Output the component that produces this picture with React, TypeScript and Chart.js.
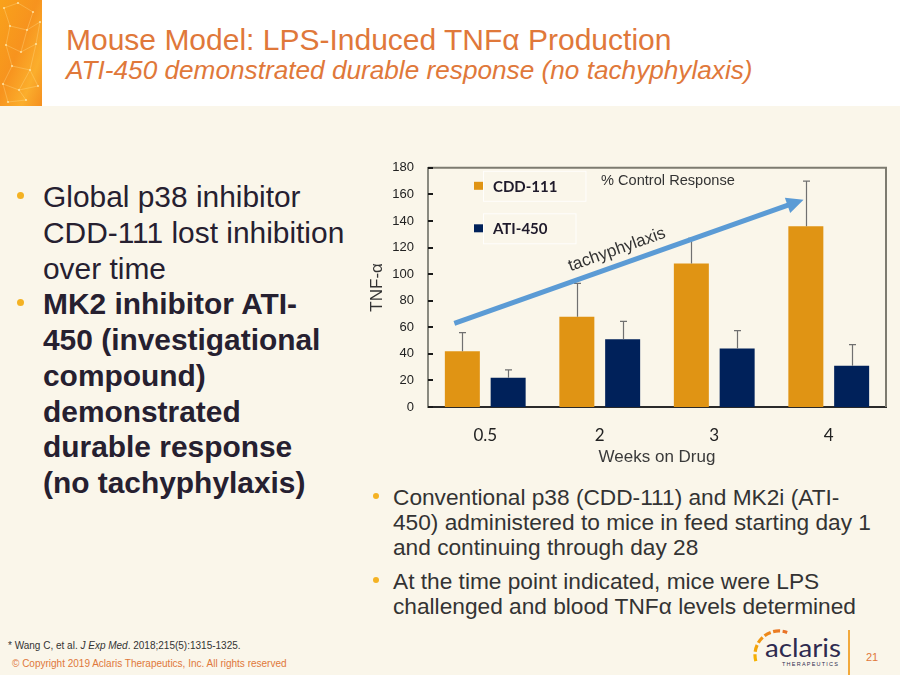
import React, { useEffect, useRef } from 'react';
import { Chart, registerables } from 'chart.js';

Chart.register(...registerables);

// ---------- data ----------
const WEEKS = ['0.5', '2', '3', '4'];
const CDD_111 = [42, 68, 108, 136];
const CDD_111_ERR = [14, 25, 19, 34];
const ATI_450 = [22, 51, 44, 31];
const ATI_450_ERR = [6, 13.5, 13.5, 16];
const Y_MIN = 0;
const Y_MAX = 180;
const Y_STEP = 20;
// trend arrow, in data space: [category index, value]
const ARROW_FROM = [-0.27, 63];
const ARROW_TO = [2.78, 156];
const ARROW_LABEL = 'tachyphylaxis';
const CHART_NOTE = '% Control Response';

const TITLE = 'Mouse Model: LPS-Induced TNFα Production';
const SUBTITLE = 'ATI-450 demonstrated durable response (no tachyphylaxis)';
const LEFT_BULLETS = [
  { bold: false, lines: ['Global p38 inhibitor', 'CDD-111 lost inhibition', 'over time'] },
  {
    bold: true,
    lines: ['MK2 inhibitor ATI-', '450 (investigational', 'compound)', 'demonstrated', 'durable response', '(no tachyphylaxis)'],
  },
];
const BOTTOM_BULLETS = [
  ['Conventional p38 (CDD-111) and MK2i (ATI-', '450) administered to mice in feed starting day 1', 'and continuing through day 28'],
  ['At the time point indicated, mice were LPS', 'challenged and blood TNFα levels determined'],
];

const ORANGE = '#E09414';
const NAVY = '#00215A';
const ERRS = [CDD_111_ERR, ATI_450_ERR];

const overlayPlugin = {
  id: 'overlay',
  afterDatasetsDraw(chart: any) {
    const { ctx, chartArea: a, scales } = chart;
    const x = scales.x;
    const y = scales.y;
    ctx.save();

    // frame top / right
    ctx.strokeStyle = '#7d7b70';
    ctx.lineWidth = 2;
    ctx.beginPath();
    ctx.moveTo(a.left, a.top);
    ctx.lineTo(a.right, a.top);
    ctx.lineTo(a.right, a.bottom);
    ctx.stroke();

    // inward tick marks
    ctx.strokeStyle = '#1a1a1a';
    ctx.lineWidth = 2;
    y.ticks.forEach((t: any) => {
      const py = Math.round(y.getPixelForValue(t.value));
      ctx.beginPath();
      ctx.moveTo(a.left, py);
      ctx.lineTo(a.left + 5, py);
      ctx.stroke();
    });

    // error bars (upper only)
    ctx.strokeStyle = '#707070';
    ctx.lineWidth = 1.2;
    chart.data.datasets.forEach((ds: any, i: number) => {
      const meta = chart.getDatasetMeta(i);
      meta.data.forEach((bar: any, j: number) => {
        const top = y.getPixelForValue(ds.data[j] + ERRS[i][j]);
        const bx = Math.round(bar.x) + 0.5;
        ctx.beginPath();
        ctx.moveTo(bx, bar.y);
        ctx.lineTo(bx, top);
        ctx.moveTo(bx - 3.5, top);
        ctx.lineTo(bx + 3.5, top);
        ctx.stroke();
      });
    });

    // trend arrow
    const x0 = x.getPixelForValue(ARROW_FROM[0]);
    const y0 = y.getPixelForValue(ARROW_FROM[1]);
    const x1 = x.getPixelForValue(ARROW_TO[0]);
    const y1 = y.getPixelForValue(ARROW_TO[1]);
    const ang = Math.atan2(y1 - y0, x1 - x0);
    const headLen = 17;
    const headHalf = 8;
    const bx = x1 - headLen * Math.cos(ang);
    const by = y1 - headLen * Math.sin(ang);
    ctx.strokeStyle = '#5B9BD5';
    ctx.fillStyle = '#5B9BD5';
    ctx.lineWidth = 5;
    ctx.lineCap = 'butt';
    ctx.beginPath();
    ctx.moveTo(x0, y0);
    ctx.lineTo(bx + 2 * Math.cos(ang), by + 2 * Math.sin(ang));
    ctx.stroke();
    ctx.beginPath();
    ctx.moveTo(x1, y1);
    ctx.lineTo(bx - headHalf * Math.sin(ang), by + headHalf * Math.cos(ang));
    ctx.lineTo(bx + headHalf * Math.sin(ang), by - headHalf * Math.cos(ang));
    ctx.closePath();
    ctx.fill();

    // arrow label
    const t = 0.48;
    const off = 15;
    const cx = x0 + t * (x1 - x0) + off * Math.sin(ang);
    const cy = y0 + t * (y1 - y0) - off * Math.cos(ang);
    ctx.save();
    ctx.translate(cx, cy);
    ctx.rotate(ang);
    ctx.fillStyle = '#333333';
    ctx.font = '17px "Liberation Sans", Arial, sans-serif';
    ctx.textAlign = 'center';
    ctx.textBaseline = 'middle';
    ctx.fillText(ARROW_LABEL, 0, 0);
    ctx.restore();

    // legend (inside the plot)
    ctx.font = 'bold 15px Lato, "Liberation Sans", sans-serif';
    ctx.textBaseline = 'middle';
    ctx.textAlign = 'left';
    const rows = [18, 60.5];
    chart.data.datasets.forEach((ds: any, i: number) => {
      const cyL = a.top + rows[i];
      const w = ctx.measureText(ds.label).width;
      ctx.strokeStyle = 'rgba(255,255,255,0.85)';
      ctx.lineWidth = 1;
      ctx.strokeRect(a.left + 55.5, cyL - 14.5, w + 38, 30);
      ctx.fillStyle = ds.backgroundColor;
      ctx.fillRect(a.left + 46, cyL - 4, 9, 8);
      ctx.fillStyle = '#1f1a2b';
      ctx.fillText(ds.label, a.left + 65, cyL + 1);
    });

    // chart note
    ctx.font = '14.6px "Liberation Sans", Arial, sans-serif';
    ctx.fillStyle = '#333333';
    ctx.fillText(CHART_NOTE, a.left + 173, a.top + 13);

    ctx.restore();
  },
};

function ChartBox() {
  const ref = useRef<HTMLCanvasElement>(null);
  useEffect(() => {
    const chart = new Chart(ref.current as HTMLCanvasElement, {
      type: 'bar',
      data: {
        labels: WEEKS,
        datasets: [
          {
            label: 'CDD-111',
            data: CDD_111,
            backgroundColor: ORANGE,
            borderWidth: 0,
            categoryPercentage: 0.8,
            barPercentage: 0.764,
          },
          {
            label: 'ATI-450',
            data: ATI_450,
            backgroundColor: NAVY,
            borderWidth: 0,
            categoryPercentage: 0.8,
            barPercentage: 0.764,
          },
        ],
      },
      options: {
        animation: false,
        responsive: false,
        maintainAspectRatio: false,
        devicePixelRatio: 1,
        layout: { padding: { top: 0, right: 14, left: 0, bottom: 0 } },
        plugins: {
          legend: { display: false },
          tooltip: { enabled: false },
        },
        scales: {
          x: {
            grid: { display: false },
            border: { display: true, color: '#2a2a2a', width: 2 },
            ticks: {
              color: '#222222',
              font: { family: 'Lato, "Liberation Sans", sans-serif', size: 17 },
              padding: 10,
            },
            title: {
              display: true,
              text: 'Weeks on Drug',
              color: '#3a3a3a',
              font: { family: '"Liberation Sans", Arial, sans-serif', size: 17 },
              padding: { top: 0, bottom: 8 },
            },
            afterFit(s: any) {
              s.height = 69;
            },
          },
          y: {
            min: Y_MIN,
            max: Y_MAX,
            grid: { display: false, drawTicks: false },
            border: { display: true, color: '#8a8a80', width: 2 },
            ticks: {
              stepSize: Y_STEP,
              color: '#222222',
              font: { family: '"Liberation Sans", Arial, sans-serif', size: 13 },
              padding: 14,
            },
            title: {
              display: true,
              text: 'TNF-α',
              color: '#333333',
              font: { family: '"Liberation Sans", Arial, sans-serif', size: 17 },
              padding: { top: 17, bottom: 0 },
            },
            afterFit(s: any) {
              s.width = 78;
            },
          },
        },
      },
      plugins: [overlayPlugin],
    } as any);
    return () => chart.destroy();
  }, []);
  return (
    <div style={{ position: 'absolute', left: 350, top: 146, width: 550, height: 330 }}>
      <canvas ref={ref} width={550} height={330} style={{ width: 550, height: 330, display: 'block' }} />
    </div>
  );
}

function Dot({ x, y, size, color }: { x: number; y: number; size: number; color: string }) {
  return (
    <div
      style={{
        position: 'absolute',
        left: x - size / 2,
        top: y - size / 2,
        width: size,
        height: size,
        borderRadius: '50%',
        background: color,
      }}
    />
  );
}

function Strip() {
  const pts = [
    [4, 8], [18, 3], [33, 12], [10, 26], [27, 30], [40, 22], [6, 45], [21, 52], [36, 44],
    [12, 66], [30, 70], [3, 84], [19, 90], [38, 86], [26, 100], [8, 102],
  ];
  const links = [
    [0, 1], [1, 2], [0, 3], [3, 4], [4, 2], [4, 5], [3, 6], [6, 7], [7, 4], [7, 8], [8, 5],
    [6, 9], [9, 10], [10, 8], [9, 11], [11, 12], [12, 10], [12, 13], [13, 10], [12, 14], [11, 15], [15, 14],
  ];
  return (
    <svg width={42} height={106} style={{ position: 'absolute', left: 0, top: 0 }}>
      <defs>
        <linearGradient id="sg" x1="0" y1="0" x2="1" y2="1">
          <stop offset="0" stopColor="#F9A21B" />
          <stop offset="0.45" stopColor="#F7931E" />
          <stop offset="0.75" stopColor="#FBAE2C" />
          <stop offset="1" stopColor="#F58F1F" />
        </linearGradient>
      </defs>
      <rect width={42} height={106} fill="url(#sg)" />
      {links.map(([a, b], i) => (
        <line
          key={i}
          x1={pts[a][0]}
          y1={pts[a][1]}
          x2={pts[b][0]}
          y2={pts[b][1]}
          stroke="rgba(255,226,150,0.55)"
          strokeWidth={0.6}
        />
      ))}
      {pts.map((p, i) => (
        <circle key={i} cx={p[0]} cy={p[1]} r={1.1} fill="rgba(255,236,180,0.8)" />
      ))}
    </svg>
  );
}

function Logo() {
  return (
    <svg width={105} height={53} style={{ position: 'absolute', left: 745, top: 622 }}>
      <defs>
        <linearGradient id="lg" x1="0" y1="1" x2="1" y2="0">
          <stop offset="0" stopColor="#F6B400" />
          <stop offset="1" stopColor="#E8702A" />
        </linearGradient>
      </defs>
      <path
        d="M 10.8 39.2 A 24 24 0 0 1 42.2 10.4"
        fill="none"
        stroke="url(#lg)"
        strokeWidth={3.2}
        strokeDasharray="7 2.5"
      />
      <text
        x={20}
        y={35}
        fontFamily='Lato, "Liberation Sans", sans-serif'
        fontSize={25}
        fill="#2E2A4F"
        textLength={76}
        lengthAdjust="spacingAndGlyphs"
      >
        aclaris
      </text>
      <text
        x={37}
        y={44}
        fontFamily='"Liberation Sans", Arial, sans-serif'
        fontSize={5.5}
        fill="#2E2A4F"
        textLength={56}
        lengthAdjust="spacing"
      >
        THERAPEUTICS
      </text>
    </svg>
  );
}

export default function App() {
  const sans = '"Liberation Sans", Arial, sans-serif';
  return (
    <div
      style={{
        position: 'absolute',
        left: 0,
        top: 0,
        width: 900,
        height: 675,
        background: '#FAF6EA',
        overflow: 'hidden',
        fontFamily: sans,
      }}
    >
      <div style={{ position: 'absolute', left: 0, top: 0, width: 900, height: 106, background: '#FFFFFF' }} />
      <Strip />
      <div
        style={{
          position: 'absolute',
          left: 66,
          top: 22,
          height: 36,
          lineHeight: '36px',
          fontSize: 30,
          color: '#E0783A',
          whiteSpace: 'nowrap',
        }}
      >
        {TITLE}
      </div>
      <div
        style={{
          position: 'absolute',
          left: 66,
          top: 54,
          height: 32,
          lineHeight: '32px',
          fontSize: 26.2,
          fontStyle: 'italic',
          color: '#E0783A',
          whiteSpace: 'nowrap',
        }}
      >
        {SUBTITLE}
      </div>

      {/* left bullets */}
      <div style={{ position: 'absolute', left: 43, top: 179, fontSize: 29.9, lineHeight: '35.75px', color: '#262030' }}>
        {LEFT_BULLETS.map((b, i) => (
          <div key={i} style={{ fontWeight: b.bold ? 'bold' : 'normal' }}>
            {b.lines.map((l, k) => (
              <div key={k} style={{ whiteSpace: 'nowrap' }}>
                {l}
              </div>
            ))}
          </div>
        ))}
      </div>
      <Dot x={20} y={195} size={7} color="#F4B223" />
      <Dot x={20} y={302} size={7} color="#F4B223" />

      <ChartBox />

      {/* bottom bullets */}
      <div style={{ position: 'absolute', left: 393, top: 484.5, fontSize: 22.7, lineHeight: '25px', color: '#333333' }}>
        {BOTTOM_BULLETS.map((b, i) => (
          <div key={i} style={{ marginBottom: i === 0 ? 9 : 0 }}>
            {b.map((l, k) => (
              <div key={k} style={{ whiteSpace: 'nowrap' }}>
                {l}
              </div>
            ))}
          </div>
        ))}
      </div>
      <Dot x={376} y={496} size={6} color="#F4B223" />
      <Dot x={376} y={580} size={6} color="#F4B223" />

      {/* footer */}
      <div style={{ position: 'absolute', left: 8, top: 639, fontSize: 10, lineHeight: '14px', color: '#333333', whiteSpace: 'nowrap' }}>
        * Wang C, et al. <i>J Exp Med</i>. 2018;215(5):1315-1325.
      </div>
      <div style={{ position: 'absolute', left: 12, top: 657, fontSize: 10, lineHeight: '14px', color: '#E0783A', whiteSpace: 'nowrap' }}>
        © Copyright 2019 Aclaris Therapeutics, Inc. All rights reserved
      </div>
      <Logo />
      <div style={{ position: 'absolute', left: 848, top: 630, width: 2, height: 45, background: '#F2A93B' }} />
      <div style={{ position: 'absolute', left: 866, top: 650, fontSize: 11, lineHeight: '14px', color: '#E0783A' }}>21</div>
    </div>
  );
}
